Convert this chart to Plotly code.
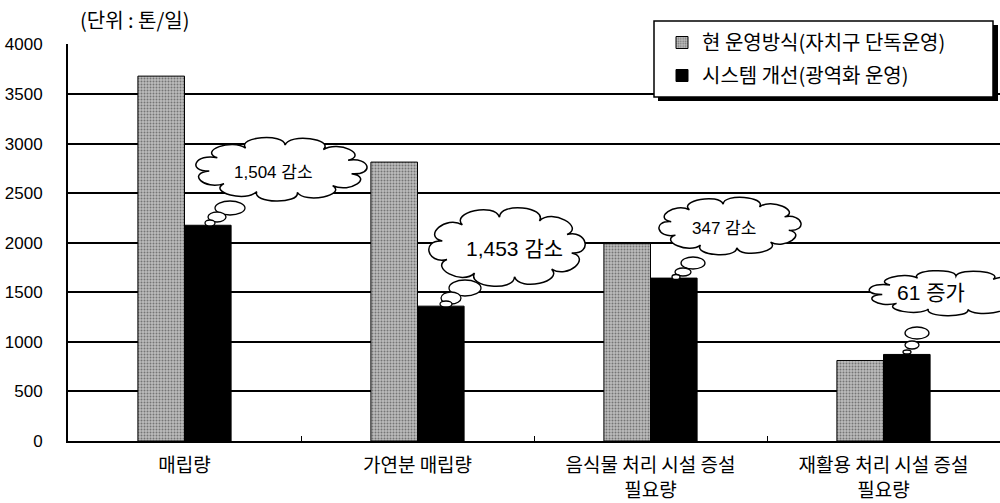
import math
import plotly.graph_objects as go

# ---------------- data ----------------
categories = ["매립량", "가연분 매립량", "음식물 처리 시설 증설<br>필요량", "재활용 처리 시설 증설<br>필요량"]
current_values = [3680, 2813, 1990, 812]      # 현 운영방식(자치구 단독운영)
improved_values = [2176, 1360, 1643, 873]     # 시스템 개선(광역화 운영)
series_names = ["현 운영방식(자치구 단독운영)", "시스템 개선(광역화 운영)"]
y_ticks = [0, 500, 1000, 1500, 2000, 2500, 3000, 3500, 4000]
unit_label = "(단위 : 톤/일)"
change_labels = ["1,504 감소", "1,453 감소", "347 감소", "61 증가"]

# ---------------- geometry helpers (pixel -> paper) ----------------
W, H = 1000, 503
ML, MR, MT, MB = 68, 0, 44, 62
PW, PH = W - ML - MR, H - MT - MB


def fx(x):
    return (x - ML) / PW


def fy(y):
    return (H - MB - y) / PH


FONT_NUM = "Liberation Sans, Arial, Noto Sans CJK KR, sans-serif"
FONT_KR = "Noto Sans CJK KR, Liberation Sans, sans-serif"

fig = go.Figure()
fig.add_trace(go.Bar(
    x=categories, y=current_values, name=series_names[0],
    legendgroup="a",
    marker=dict(color="#b0b0b0", line=dict(color="black", width=1),
                pattern=dict(shape=".", fgcolor="#2e2e2e", bgcolor="#bcbcbc", size=3, solidity=0.35)),
))
fig.add_trace(go.Bar(
    x=categories, y=improved_values, name=series_names[1],
    legendgroup="b",
    marker=dict(color="black", line=dict(color="black", width=1)),
))

shapes = []
annotations = []

# legend frame with drop shadow
shapes.append(dict(type="rect", xref="paper", yref="paper",
                   x0=fx(658), x1=fx(998), y0=fy(101), y1=fy(25),
                   fillcolor="black", line=dict(width=0), layer="above"))
shapes.append(dict(type="rect", xref="paper", yref="paper",
                   x0=fx(654), x1=fx(993), y0=fy(97), y1=fy(21),
                   fillcolor="white", line=dict(color="black", width=1.5), layer="above"))


def cloud_path(cx, cy, rx, ry, n=11, bump=0.32, phase=0.2):
    angles = [phase + 2 * math.pi * i / n for i in range(n + 1)]
    d = ""
    for i in range(n):
        a0, a1 = angles[i], angles[i + 1]
        da = a1 - a0
        x0, y0 = cx + rx * math.cos(a0), cy + ry * math.sin(a0)
        x1, y1 = cx + rx * math.cos(a1), cy + ry * math.sin(a1)
        kx, ky = 1 + bump, 1 + bump * 1.6
        c1a, c2a = a0 + 0.05 * da, a1 - 0.05 * da
        c1x, c1y = cx + rx * kx * math.cos(c1a), cy + ry * ky * math.sin(c1a)
        c2x, c2y = cx + rx * kx * math.cos(c2a), cy + ry * ky * math.sin(c2a)
        if i == 0:
            d += f"M{fx(x0):.5f},{fy(y0):.5f} "
        d += f"C{fx(c1x):.5f},{fy(c1y):.5f} {fx(c2x):.5f},{fy(c2y):.5f} {fx(x1):.5f},{fy(y1):.5f} "
    return d + "Z"


# cloud layout: (cx, cy, rx, ry, n, text x, text y, font size)
clouds = [
    (281, 169, 72, 24, 11, 273, 172, 17),
    (507, 247, 66, 30, 10, 514, 249, 21),
    (730, 226, 60, 22, 10, 724, 228, 17),
    (952, 293, 70, 17, 11, 931, 292, 21),
]
bubbles = [
    [(230, 208, 15, 7), (217, 217, 9, 5), (210, 223, 5, 3)],
    [(465, 288, 16, 8), (451, 298, 10, 6), (446, 304, 6, 3)],
    [(693, 263, 12, 6), (683, 272, 8, 4), (676, 277, 4, 2.5)],
    [(917, 333, 12, 6), (912, 345, 7, 4), (907, 352, 4, 2)],
]

for (cx, cy, rx, ry, n, tx, ty, fs), bl, lab in zip(clouds, bubbles, change_labels):
    shapes.append(dict(type="path", xref="paper", yref="paper", path=cloud_path(cx, cy, rx, ry, n),
                       fillcolor="white", line=dict(color="black", width=1.5), layer="above"))
    for (bx, by, brx, bry) in bl:
        shapes.append(dict(type="circle", xref="paper", yref="paper",
                           x0=fx(bx - brx), x1=fx(bx + brx), y0=fy(by + bry), y1=fy(by - bry),
                           fillcolor="white", line=dict(color="black", width=1.3), layer="above"))
    annotations.append(dict(text=lab, xref="paper", yref="paper", x=fx(tx), y=fy(ty),
                            xanchor="center", yanchor="middle", showarrow=False,
                            font=dict(family=FONT_NUM, size=fs, color="black")))

annotations.append(dict(text=unit_label, xref="paper", yref="paper", x=fx(78), y=fy(19),
                        xanchor="left", yanchor="middle", showarrow=False,
                        font=dict(family=FONT_KR, size=20, color="black")))

fig.update_layout(
    width=W, height=H,
    margin=dict(l=ML, r=MR, t=MT, b=MB, autoexpand=False),
    paper_bgcolor="white", plot_bgcolor="white",
    barmode="group", bargap=0.6, bargroupgap=0,
    font=dict(family=FONT_KR, color="black"),
    showlegend=True,
    legend=dict(x=fx(662), y=fy(23), xanchor="left", yanchor="top",
                bgcolor="rgba(0,0,0,0)", borderwidth=0,
                font=dict(family=FONT_KR, size=20, color="black"),
                traceorder="grouped", tracegroupgap=4, itemwidth=30),
    xaxis=dict(type="category", range=[-0.5, 3.5], showline=True, linecolor="black", linewidth=2,
               ticks="inside", tickson="boundaries", ticklen=5, tickcolor="black", tickwidth=1,
               showgrid=False, tickfont=dict(family=FONT_KR, size=19, color="black"),
               ticklabelstandoff=6),
    yaxis=dict(range=[0, 4004], tickvals=y_ticks, ticktext=[str(v) for v in y_ticks],
               showline=True, linecolor="black", linewidth=2, showgrid=True,
               gridcolor="black", gridwidth=2, zeroline=False, ticks="",
               tickfont=dict(family=FONT_NUM, size=17, color="black"), ticklabelstandoff=20),
    shapes=shapes, annotations=annotations,
)

fig.write_html("out.html")
